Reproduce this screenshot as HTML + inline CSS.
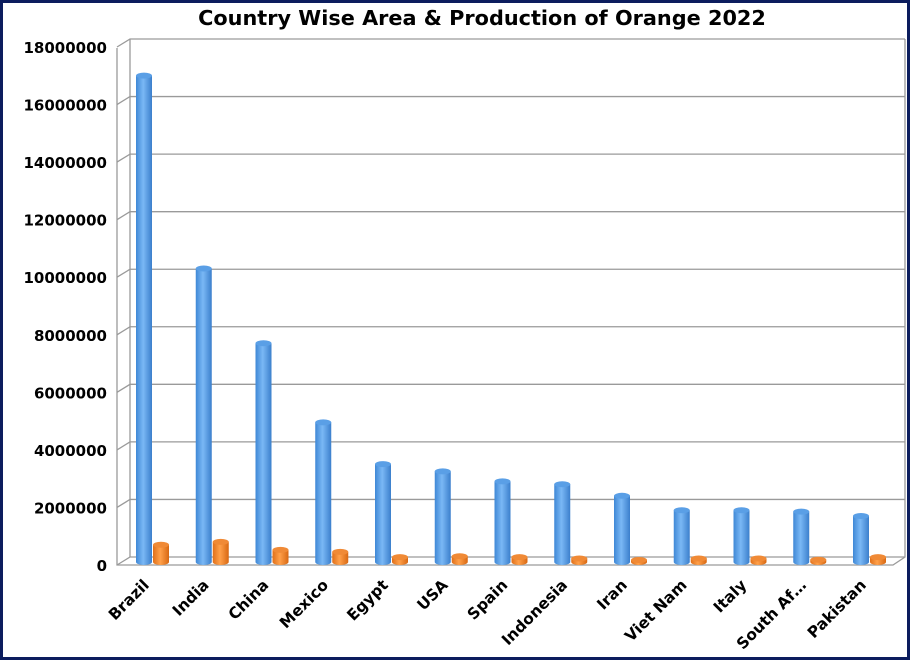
<!DOCTYPE html>
<html><head><meta charset="utf-8"><style>
html,body{margin:0;padding:0;background:#fff}
svg{display:block;font-family:"DejaVu Sans","Liberation Sans",sans-serif}
</style></head><body>
<svg id="c" width="910" height="660" viewBox="0 0 910 660">
<defs>
<linearGradient id="gb" x1="0" x2="1" y1="0" y2="0"><stop offset="0" stop-color="#3f88d6"/><stop offset="0.45" stop-color="#7ab8f5"/><stop offset="1" stop-color="#3b7fcc"/></linearGradient>
<linearGradient id="go" x1="0" x2="1" y1="0" y2="0"><stop offset="0" stop-color="#e0701a"/><stop offset="0.45" stop-color="#ffa04a"/><stop offset="1" stop-color="#d86812"/></linearGradient>
</defs>
<rect x="1.5" y="1.5" width="907" height="657" fill="#fff" stroke="#0c1d5e" stroke-width="3"/>
<text x="482" y="25" text-anchor="middle" font-size="20.8" font-weight="bold">Country Wise Area &amp; Production of Orange 2022</text>
<g id="grid"></g><g id="bars"></g><g id="labels"></g>
</svg>
<script>
const categories=["Brazil","India","China","Mexico","Egypt","USA","Spain","Indonesia","Iran","Viet Nam","Italy","South Af…","Pakistan"];
const areaValues=[16900000,10200000,7600000,4850000,3400000,3150000,2800000,2700000,2300000,1800000,1800000,1750000,1600000];
const prodValues=[600000,700000,420000,350000,170000,200000,170000,120000,70000,120000,120000,80000,170000];
const yTicks=[0,2000000,4000000,6000000,8000000,10000000,12000000,14000000,16000000,18000000];
const NS="http://www.w3.org/2000/svg";
const base=562, pxPerUnit=(557-39)/18000000;
function y(v){return base-v*pxPerUnit;}
function x(i){return 144+i*59.75;}
function mk(tag,attrs,parent){const e=document.createElementNS(NS,tag);for(const k in attrs)e.setAttribute(k,attrs[k]);parent.appendChild(e);return e;}
const grid=document.getElementById('grid'), bars=document.getElementById('bars'), labels=document.getElementById('labels');
const wall=mk('path',{d:"M130,39 L905,39 L905,557 L893,565 L117,565 L117,48 Z",fill:"#fff",stroke:"none"},grid);


yTicks.forEach(t=>{
  const by=557-t*pxPerUnit;
  const g=mk('path',{d:`M117,${by+8} L130,${by} L905,${by}`,fill:"none",stroke:"#9a9a9a","stroke-width":1.3},grid);
  
  
  const l=mk('text',{x:107,y:by+14,"text-anchor":"end","font-size":15,"font-weight":"bold"},labels);
  l.textContent=String(t);
  
  
});
const axl=mk('path',{d:"M130,39 L130,557 M117,48 L117,565 L893,565 L905,557 L905,39",fill:"none",stroke:"#9a9a9a","stroke-width":1.3},grid);


function cyl(cx,v,fill,top,name){
  const rx=8,ry=3,yt=y(v);
  const g=mk('g',{},bars);
  
  
  mk('path',{d:`M${cx-rx},${yt} L${cx-rx},${base} A${rx},${ry} 0 0 0 ${cx+rx},${base} L${cx+rx},${yt} Z`,fill:fill},g);
  mk('ellipse',{cx:cx,cy:yt,rx:rx,ry:ry,fill:top},g);
}
categories.forEach((c,i)=>{
  cyl(x(i),areaValues[i],"url(#gb)","#5a9fe6","area-bar-"+i);
  cyl(x(i)+17,prodValues[i],"url(#go)","#f08a36","production-bar-"+i);
  const t=mk('text',{"text-anchor":"end","font-size":15.5,"font-weight":"bold",transform:`translate(${x(i)+6},586) rotate(-45)`},labels);
  t.textContent=c;
  
  
});
</script>
</body></html>
